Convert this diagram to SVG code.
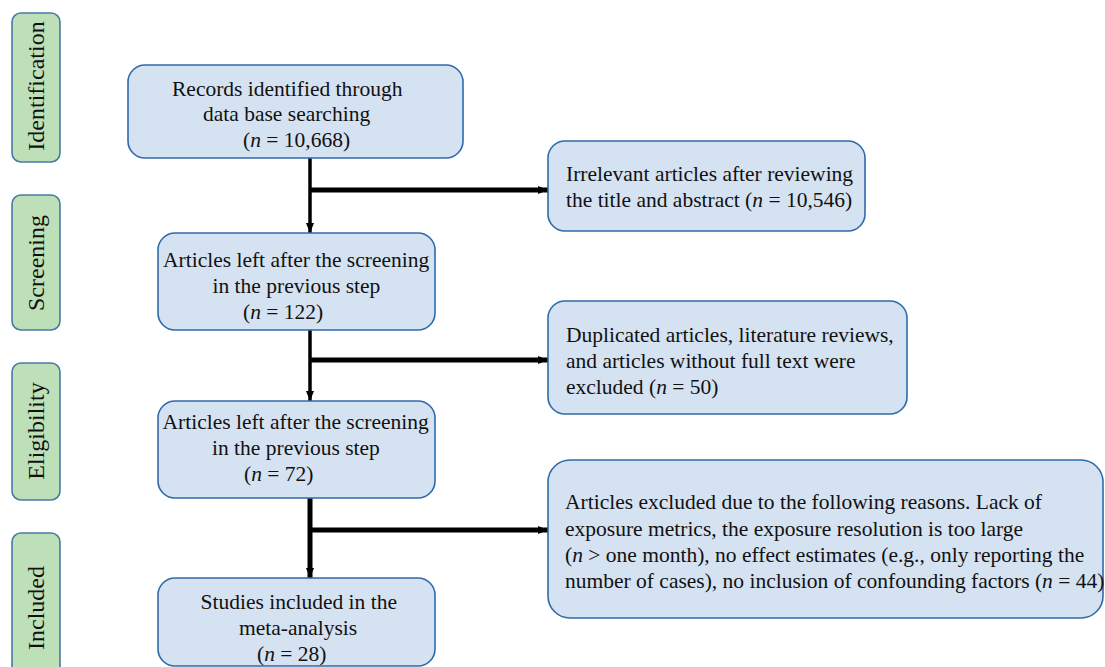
<svg xmlns="http://www.w3.org/2000/svg" width="1105" height="667" viewBox="0 0 1105 667" font-family="'Liberation Serif', 'Times New Roman', serif">
<defs>
<style>
.stage{fill:#BEE0B8;stroke:#4A78A6;stroke-width:1.6}
.box{fill:#D5E2F1;stroke:#2F6BA8;stroke-width:1.6}
.t{font-family:"Liberation Serif","Times New Roman",serif;font-size:21.5px;fill:#111}
.s{font-family:"Liberation Serif","Times New Roman",serif;font-size:24px;fill:#111;text-anchor:middle}
.i{font-style:italic}
.ln{stroke:#000;fill:none}
</style>
<marker id="ah" markerUnits="userSpaceOnUse" markerWidth="10" markerHeight="10" viewBox="0 0 10 10" refX="10" refY="5" orient="auto">
<path d="M0,1 L10,5 L0,9 Z" fill="#000"/>
</marker>
</defs>
<rect width="1105" height="667" fill="#fff"/>

<g id="stage-identification">
<rect class="stage" x="12" y="13" width="48" height="149" rx="9"/>
<text class="s" transform="translate(44,86) rotate(-90)">Identification</text>
</g>
<g id="stage-screening">
<rect class="stage" x="12" y="195" width="48" height="135" rx="9"/>
<text class="s" transform="translate(44,263) rotate(-90)">Screening</text>
</g>
<g id="stage-eligibility">
<rect class="stage" x="12" y="363" width="48" height="137" rx="9"/>
<text class="s" transform="translate(44,431) rotate(-90)">Eligibility</text>
</g>
<g id="stage-included">
<rect class="stage" x="12" y="533" width="48" height="160" rx="9"/>
<text class="s" transform="translate(44,608) rotate(-90)">Included</text>
</g>

<g id="connectors">
<line class="ln" x1="310" y1="158" x2="310" y2="233" stroke-width="3.5" marker-end="url(#ah)"/>
<line class="ln" x1="310" y1="190" x2="548" y2="190" stroke-width="5" marker-end="url(#ah)"/>
<line class="ln" x1="310" y1="330" x2="310" y2="401" stroke-width="3.5" marker-end="url(#ah)"/>
<line class="ln" x1="310" y1="360" x2="548" y2="360" stroke-width="5" marker-end="url(#ah)"/>
<line class="ln" x1="310" y1="498" x2="310" y2="578" stroke-width="5" marker-end="url(#ah)"/>
<line class="ln" x1="310" y1="530" x2="548" y2="530" stroke-width="5" marker-end="url(#ah)"/>
</g>

<g id="records">
<rect class="box" x="128" y="65" width="335" height="93" rx="17"/>
<text class="t" x="172" y="95.5">Records identified through</text>
<text class="t" x="203" y="121">data base searching</text>
<text class="t" x="243" y="147">(<tspan class="i">n</tspan> = 10,668)</text>
</g>

<g id="screened">
<rect class="box" x="158" y="233" width="277" height="97" rx="17"/>
<text class="t" x="163" y="267">Articles left after the screening</text>
<text class="t" x="212.5" y="293">in the previous step</text>
<text class="t" x="243" y="319">(<tspan class="i">n</tspan> = 122)</text>
</g>

<g id="eligible">
<rect class="box" x="158" y="401" width="277" height="97" rx="17"/>
<text class="t" x="162.5" y="429">Articles left after the screening</text>
<text class="t" x="212" y="455">in the previous step</text>
<text class="t" x="244" y="481">(<tspan class="i">n</tspan> = 72)</text>
</g>

<g id="included">
<rect class="box" x="158" y="578" width="277" height="88" rx="17"/>
<text class="t" x="200.5" y="609">Studies included in the</text>
<text class="t" x="239" y="635">meta-analysis</text>
<text class="t" x="257" y="661">(<tspan class="i">n</tspan> = 28)</text>
</g>

<g id="excluded-1">
<rect class="box" x="548" y="141" width="317" height="90" rx="17"/>
<text class="t" x="566" y="181">Irrelevant articles after reviewing</text>
<text class="t" x="566" y="207">the title and abstract (<tspan class="i">n</tspan> = 10,546)</text>
</g>

<g id="excluded-2">
<rect class="box" x="548" y="301" width="359" height="113" rx="17"/>
<text class="t" x="566" y="342">Duplicated articles, literature reviews,</text>
<text class="t" x="566" y="368">and articles without full text were</text>
<text class="t" x="566" y="394">excluded (<tspan class="i">n</tspan> = 50)</text>
</g>

<g id="excluded-3">
<rect class="box" x="548" y="460" width="555" height="158" rx="22"/>
<text class="t" x="565" y="509">Articles excluded due to the following reasons. Lack of</text>
<text class="t" x="565" y="536">exposure metrics, the exposure resolution is too large</text>
<text class="t" x="565" y="562">(<tspan class="i">n</tspan> &gt; one month), no effect estimates (e.g., only reporting the</text>
<text class="t" x="565" y="588">number of cases), no inclusion of confounding factors (<tspan class="i">n</tspan> = 44)</text>
</g>
</svg>
